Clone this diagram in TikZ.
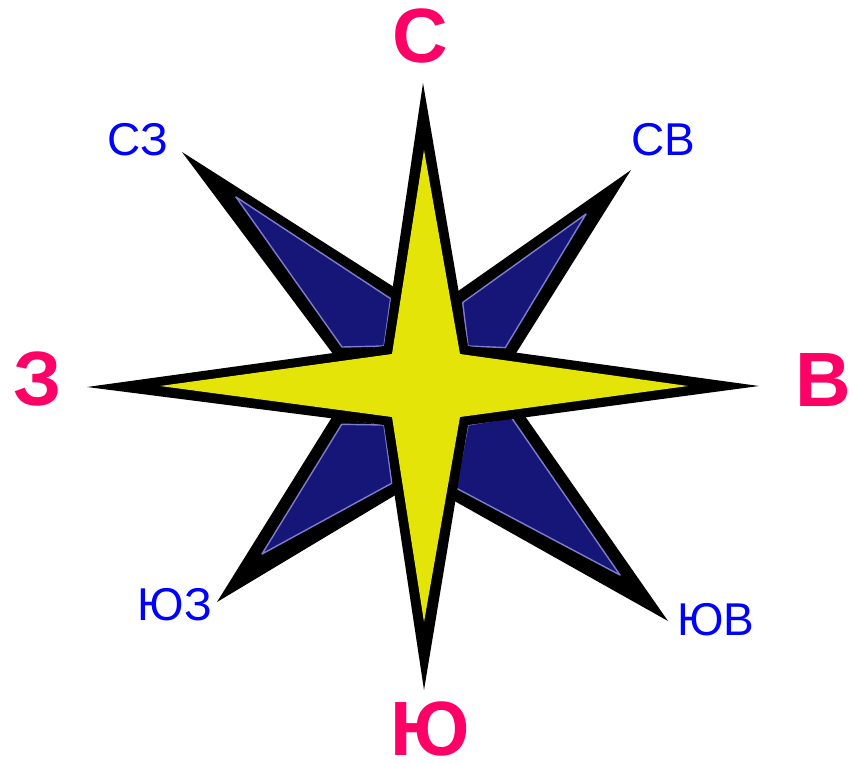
\documentclass[tikz,border=0pt]{standalone}
\usepackage{fontspec}
\setmainfont{Liberation Sans}

\definecolor{roseRed}{RGB}{255,0,102}
\definecolor{labelBlue}{RGB}{0,0,255}
\definecolor{starYellow}{RGB}{228,228,8}
\definecolor{starNavy}{RGB}{22,22,120}
\definecolor{rimLilac}{RGB}{125,125,205}

% raggio diagonale: contorno nero (4 punti) e interno blu (4 punti)
\newcommand{\diagray}[8]{%
  \fill[black] (#1) -- (#2) -- (#3) -- (#4) -- cycle;
  \filldraw[fill=starNavy, draw=rimLilac, line width=1.4pt]
      (#5) -- (#6) -- (#7) -- (#8) -- cycle;
}

\begin{document}
\begin{tikzpicture}[x=1pt, y=-1pt, line join=round,
    mainlbl/.style={text=roseRed, inner sep=0pt, font=\fontsize{77}{80}\selectfont\bfseries},
    sidelbl/.style={text=labelBlue, inner sep=0pt, font=\fontsize{46}{50}\selectfont}]
        \useasboundingbox (0,0) rectangle (856,763);

        % Punte della stella principale
        \coordinate (N) at (423,83);
        \coordinate (E) at (759,386);
        \coordinate (S) at (424,690);
        \coordinate (W) at (87,387);

        % Angoli interni (bordo esterno del contorno)
        \coordinate (nw) at (384,346);
        \coordinate (ne) at (468,346);
        \coordinate (se) at (468,425);
        \coordinate (sw) at (384,425);

        % Punte diagonali
        \coordinate (NW) at (182,152);
        \coordinate (NE) at (631,170);
        \coordinate (SE) at (668,621);
        \coordinate (SW) at (217,602);

        % Raggi diagonali (blu scuro)
        \diagray{NW}{397,289}{nw}{333,354}{236,197}{390.6,298.7}{nw}{342,347}
        \diagray{NE}{455.6,292.8}{ne}{515.4,354.2}{586,214}{462.7,302.5}{ne}{505.3,347.6}
        \diagray{SE}{521.2,410.7}{se}{450,498.5}{620,575}{511.5,417.7}{se}{456,488}
        \diagray{SW}{331.6,417.8}{sw}{398.1,493.4}{262,554}{341.7,424.3}{sw}{391.8,483.2}

        % Stella gialla: contorno nero e interno giallo
        \fill[black]
            (N) -- (ne) -- (E) -- (se) -- (S) -- (sw) -- (W) -- (nw) -- cycle;
        \fill[starYellow]
            (424,150) -- (460,354) -- (688,386) -- (460,417)
            -- (424,622) -- (392,417) -- (160,386) -- (392,354) -- cycle;

        % Punti cardinali
        \node[mainlbl] (lblN) at (420,36) {С};
        \node[mainlbl] (lblE) at (823,380) {В};
        \node[mainlbl] (lblS) at (430,729) {Ю};
        \node[mainlbl] (lblW) at (38,379) {З};

        % Punti intermedi
        \node[sidelbl] (lblNW) at (138,140) {СЗ};
        \node[sidelbl] (lblNE) at (663,140) {СВ};
        \node[sidelbl] (lblSE) at (716,620) {ЮВ};
        \node[sidelbl] (lblSW) at (175,605) {ЮЗ};

    \end{tikzpicture}
\end{document}
